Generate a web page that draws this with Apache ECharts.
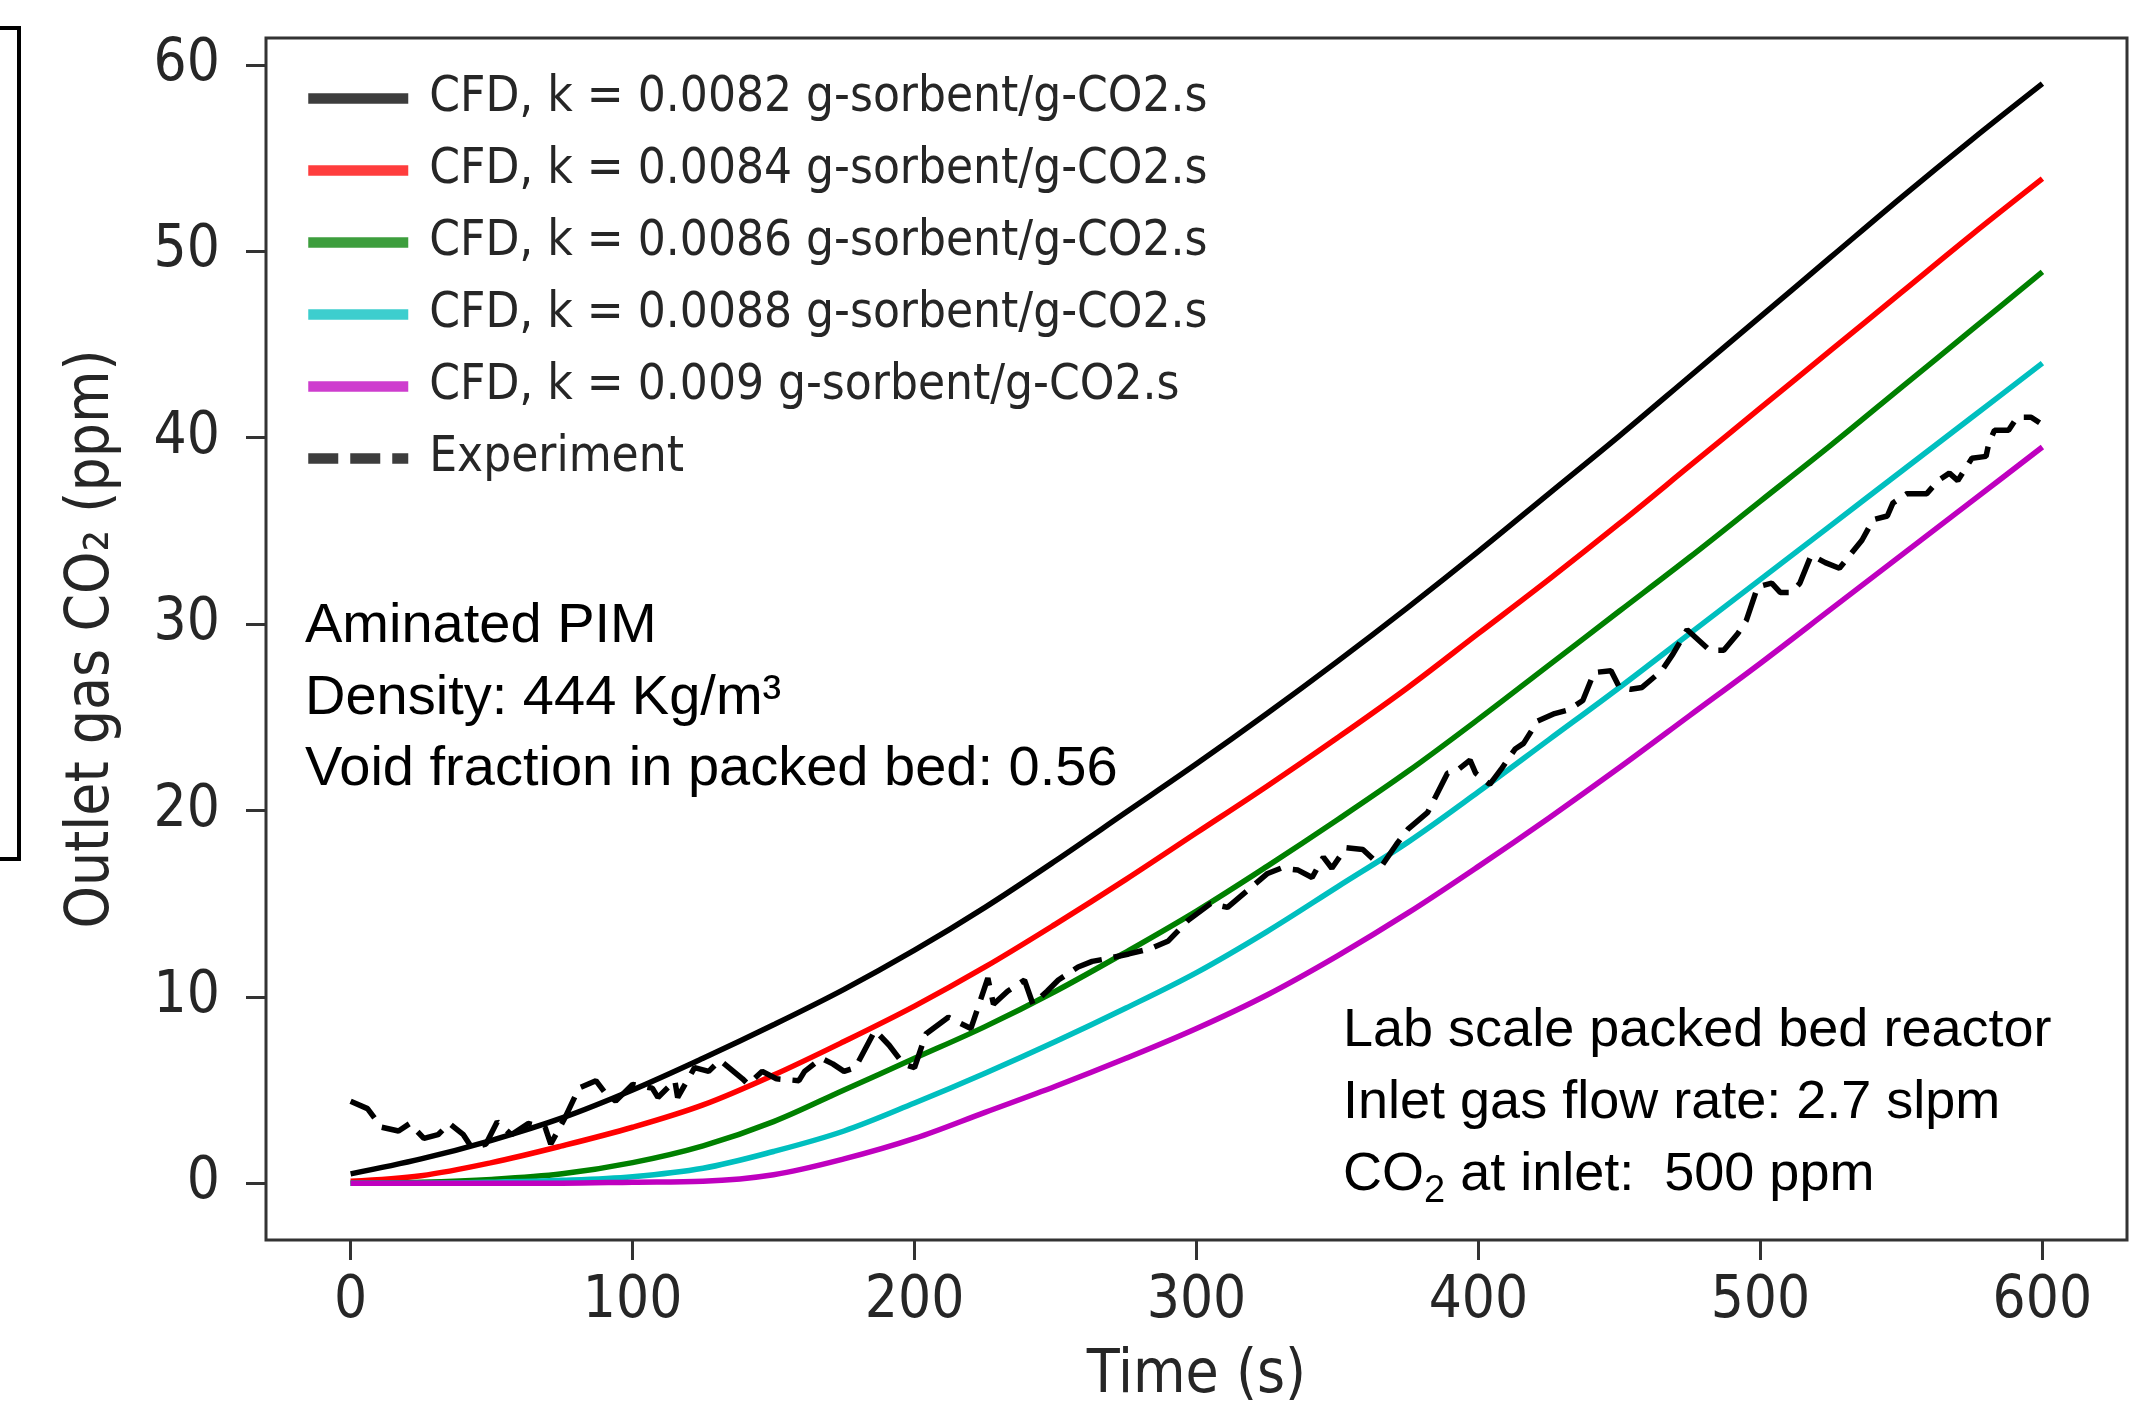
<!DOCTYPE html>
<html>
<head>
<meta charset="utf-8">
<title>Outlet gas CO2</title>
<script src="https://cdn.jsdelivr.net/npm/echarts@6/dist/echarts.min.js"></script>
<style>
    html, body { margin: 0; padding: 0; background: #fff; }
    .chart { width: 2153px; height: 1412px; }
</style>
</head>
<body>
<div class="chart"></div>
<script>
// time axis of the CFD curves (s)
var cfdTime = [0, 25, 50, 75, 100, 125, 150, 175, 200, 225, 250, 275, 300,
    325, 350, 375, 400, 425, 450, 475, 500, 525, 550, 575, 600];
// CFD outlet CO2 (ppm) for each k
var cfd0082 = [0.5, 1.3, 2.3, 3.5, 5.0, 6.7, 8.5, 10.4, 12.5, 14.8, 17.3, 19.9, 22.5,
    25.2, 28.0, 30.9, 33.9, 37.0, 40.1, 43.3, 46.5, 49.7, 52.9, 56.0, 59.0];
var cfd0084 = [0.1, 0.4, 1.1, 2.0, 3.0, 4.2, 5.8, 7.6, 9.5, 11.6, 13.9, 16.3, 18.8,
    21.3, 23.9, 26.6, 29.5, 32.4, 35.4, 38.5, 41.6, 44.7, 47.8, 50.9, 53.9];
var cfd0086 = [0.0, 0.05, 0.2, 0.5, 1.1, 2.0, 3.3, 5.0, 6.7, 8.4, 10.3, 12.4, 14.6,
    17.0, 19.5, 22.1, 24.9, 27.8, 30.7, 33.6, 36.6, 39.6, 42.7, 45.8, 48.9];
var cfd0088 = [0.0, 0.0, 0.05, 0.15, 0.35, 0.8, 1.7, 2.8, 4.3, 5.9, 7.6, 9.4, 11.3,
    13.5, 15.9, 18.3, 21.0, 23.8, 26.6, 29.5, 32.4, 35.3, 38.2, 41.1, 44.0];
var cfd0090 = [0.0, 0.0, 0.0, 0.0, 0.05, 0.1, 0.45, 1.3, 2.4, 3.8, 5.2, 6.7, 8.3,
    10.1, 12.2, 14.5, 17.0, 19.6, 22.3, 25.1, 27.9, 30.8, 33.7, 36.6, 39.5];
// experiment (s, ppm)
var expTime = [0, 6, 11, 17, 21, 26, 31, 35, 40, 43, 48, 52, 57, 63, 69, 71, 76, 81, 87, 90,
    94, 100, 107, 109, 115, 116, 122, 127, 131, 139, 141, 146, 151, 159, 161, 167, 171, 175, 179, 186,
    191, 196, 200, 204, 212, 220, 226, 228, 233, 239, 242, 247, 251, 258, 263, 270, 276, 284, 290, 297,
    305, 311, 318, 325, 330, 336, 341, 345, 348, 353, 359, 364, 366, 371, 375, 382, 389, 392, 397, 399,
    404, 408, 413, 416, 421, 427, 432, 437, 441, 447, 450, 454, 458, 465, 469, 474, 482, 487, 492, 495,
    499, 504, 507, 511, 514, 518, 523, 528, 536, 540, 545, 547, 552, 559, 563, 567, 570, 575, 580, 581,
    583, 588, 591, 596, 599];
var expCO2 = [4.4, 4.0, 3.0, 2.8, 3.2, 2.4, 2.6, 3.2, 2.6, 1.9, 2.1, 3.3, 2.6, 3.2, 3.0, 2.1, 3.5, 5.1, 5.5, 4.9,
    4.4, 5.3, 5.1, 4.6, 5.5, 4.6, 6.2, 6.0, 6.6, 5.6, 5.3, 6.0, 5.6, 5.5, 6.0, 6.7, 6.4, 6.0, 6.2, 8.2,
    7.4, 6.4, 6.2, 8.0, 8.9, 8.3, 11.0, 9.6, 10.3, 10.9, 9.6, 10.3, 10.9, 11.6, 11.9, 12.1, 12.3, 12.6, 13.0, 14.1,
    15.0, 14.8, 15.7, 16.6, 16.9, 16.8, 16.4, 17.5, 16.9, 18.0, 17.9, 17.2, 17.1, 18.2, 19.0, 19.9, 22.0, 22.1, 22.7, 22.0,
    21.4, 22.2, 23.3, 23.6, 24.8, 25.2, 25.4, 25.9, 27.4, 27.5, 26.6, 26.5, 26.6, 27.5, 28.4, 29.7, 28.6, 28.6, 29.5, 30.2,
    32.0, 32.2, 31.7, 31.7, 32.2, 33.7, 33.3, 33.0, 34.5, 35.6, 35.8, 36.5, 37.0, 37.0, 37.7, 38.1, 37.7, 38.9, 39.0, 39.7,
    40.4, 40.4, 41.1, 41.1, 40.8];
var seriesNames = ['CFD, k = 0.0082 g-sorbent/g-CO2.s', 'CFD, k = 0.0084 g-sorbent/g-CO2.s',
    'CFD, k = 0.0086 g-sorbent/g-CO2.s', 'CFD, k = 0.0088 g-sorbent/g-CO2.s',
    'CFD, k = 0.009 g-sorbent/g-CO2.s', 'Experiment'];
var xTicks = [0, 100, 200, 300, 400, 500, 600];
var yTicks = [0, 10, 20, 30, 40, 50, 60];

(function () {
    var myChart = echarts.init(document.querySelector('.chart'));
    var mplFont = '"DejaVu Sans Condensed", "DejaVu Sans", sans-serif';
    var noteFont = '"Liberation Sans", Arial, sans-serif';
    var colors = ['#000000', '#ff0000', '#008000', '#00bfbf', '#bf00bf'];
    var cfdValues = [cfd0082, cfd0084, cfd0086, cfd0088, cfd0090];

    function pairs(xs, ys) {
        return xs.map(function (x, i) { return [x, ys[i]]; });
    }

    var series = cfdValues.map(function (vals, i) {
        return {
            name: seriesNames[i],
            type: 'line',
            symbol: 'none',
            // the model curves are smooth
            smooth: 0.35,
            data: pairs(cfdTime, vals),
            lineStyle: { color: colors[i], width: 5.5 },
            itemStyle: { color: colors[i] }
        };
    });
    series.push({
        name: seriesNames[5],
        type: 'line',
        symbol: 'none',
        data: pairs(expTime, expCO2),
        lineStyle: { color: '#000', width: 5.5, type: [30, 12] },
        itemStyle: { color: '#000' },
        z: 3
    });

    var tickStyle = { show: true, length: 20, lineStyle: { color: '#333', width: 3 } };

    var option = {
        animation: false,
        backgroundColor: '#fff',
        grid: {
            left: 266, right: 26, top: 38, bottom: 172,
            show: true,
            borderColor: '#333',
            borderWidth: 3,
            backgroundColor: 'transparent'
        },
        legend: {
            data: seriesNames,
            orient: 'vertical',
            left: 298,
            top: 69,
            itemWidth: 100,
            itemHeight: 40,
            itemGap: 23,
            selectedMode: false,
            // hide the symbol that echarts puts in the middle of a line icon
            itemStyle: { color: 'rgba(0,0,0,0)', borderWidth: 0 },
            lineStyle: { width: 10.5, opacity: 0.76 },
            textStyle: {
                fontFamily: mplFont,
                fontSize: 49,
                color: '#262626',
                lineHeight: 40,
                padding: [0, 0, 0, 16]
            }
        },
        xAxis: {
            type: 'value',
            min: -30,
            max: 630,
            name: 'Time (s)',
            nameLocation: 'middle',
            nameGap: 106,
            nameTextStyle: { fontFamily: mplFont, fontSize: 60, color: '#262626' },
            axisLine: { show: false, onZero: false },
            axisTick: Object.assign({ customValues: xTicks }, tickStyle),
            axisLabel: {
                customValues: xTicks,
                fontFamily: mplFont,
                fontSize: 58,
                color: '#262626',
                margin: 33
            },
            splitLine: { show: false }
        },
        yAxis: {
            type: 'value',
            min: -3.05,
            max: 61.45,
            name: 'Outlet gas CO₂ (ppm)',
            nameLocation: 'middle',
            nameGap: 144,
            nameTextStyle: { fontFamily: mplFont, fontSize: 60, color: '#262626' },
            axisLine: { show: false, onZero: false },
            axisTick: Object.assign({ customValues: yTicks }, tickStyle),
            axisLabel: {
                customValues: yTicks,
                fontFamily: mplFont,
                fontSize: 58,
                color: '#262626',
                margin: 46
            },
            splitLine: { show: false }
        },
        graphic: [
            {
                // cropped bracket at the left edge
                type: 'polyline',
                shape: { points: [[0, 28], [19, 28], [19, 859], [0, 859]] },
                style: { stroke: '#000', lineWidth: 4, fill: null }
            },
            {
                type: 'text',
                x: 305,
                y: 591,
                style: {
                    text: 'Aminated PIM\nDensity: 444 Kg/m³\nVoid fraction in packed bed: 0.56',
                    font: '56px ' + noteFont,
                    lineHeight: 71.5,
                    fill: '#000',
                    verticalAlign: 'top'
                }
            },
            {
                type: 'text',
                x: 1343,
                y: 995,
                style: {
                    text: 'Lab scale packed bed reactor\nInlet gas flow rate: 2.7 slpm\nCO{sub|2} at inlet:  500 ppm',
                    font: '54px ' + noteFont,
                    lineHeight: 72,
                    fill: '#000',
                    verticalAlign: 'top',
                    rich: {
                        sub: { fontSize: 38, fontFamily: noteFont, lineHeight: 38, verticalAlign: 'bottom' }
                    }
                }
            }
        ],
        series: series
    };
    myChart.setOption(option);
    window.addEventListener('resize', function () {
        myChart.resize();
    });
})();
</script>
</body>
</html>
